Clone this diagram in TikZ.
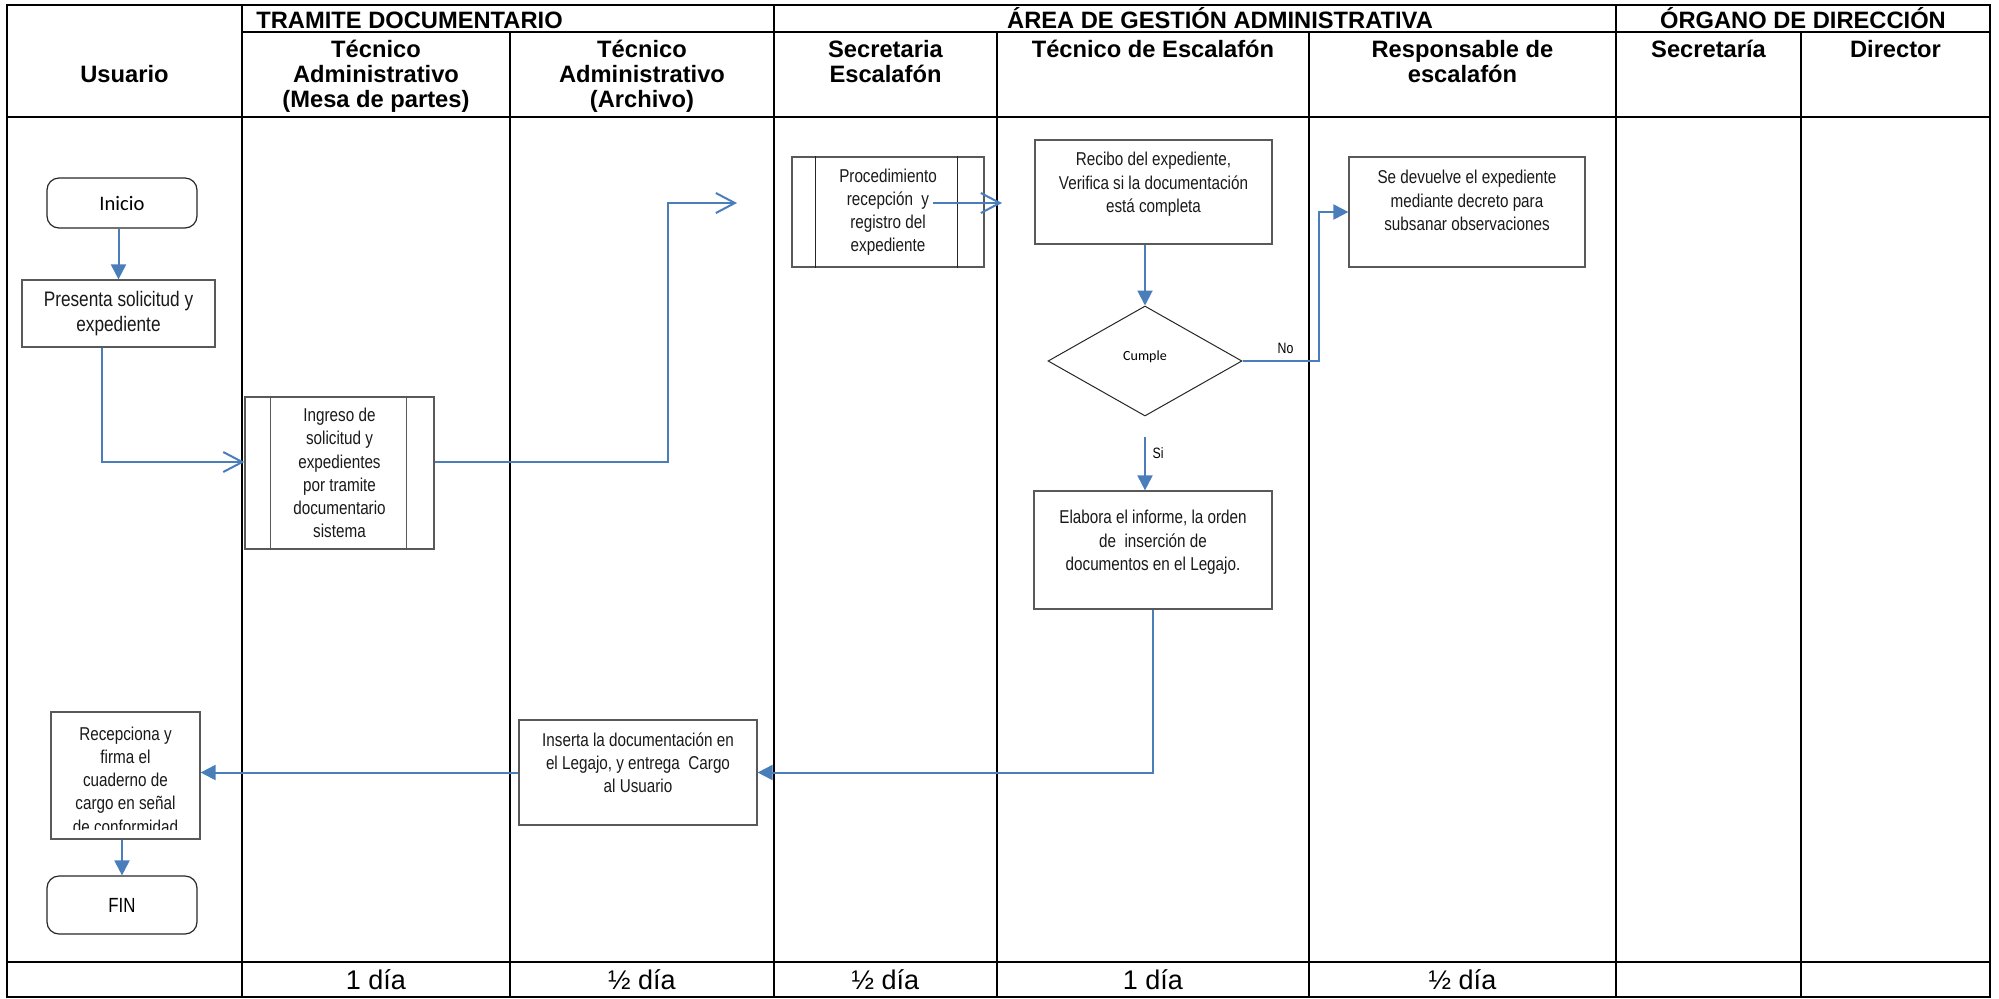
\documentclass[tikz,border=0pt]{standalone}
\usepackage{fontspec}
\setmainfont{Liberation Sans}
\newfontfamily\narrowfont{Liberation Sans}[FakeStretch=0.82]
\newfontfamily\calibfont{Carlito}
\usetikzlibrary{arrows.meta,shapes.geometric}
\definecolor{flowblue}{RGB}{74,126,187}
\definecolor{boxgray}{RGB}{89,89,89}

\begin{document}
\begin{tikzpicture}[x=0.5pt, y=-0.5pt,
        tableout/.style = {line width=1.35pt},
        tablein/.style = {line width=1pt},
        grp/.style = {font=\bfseries\fontsize{11.85}{12.5}\selectfont, anchor=base, inner sep=0pt},
        hdr/.style = {font=\bfseries\fontsize{11.85}{12.5}\selectfont, align=center, anchor=base, inner sep=0pt},
        foot/.style = {font=\fontsize{13.5}{15}\selectfont},
        proc/.style = {draw=boxgray, line width=0.6pt, align=center, inner sep=0pt,
                       font=\narrowfont\fontsize{9.3}{11.6}\selectfont, text=black!90},
        term/.style = {draw=black!85, line width=0.6pt, rounded corners=6pt, inner sep=0pt, minimum width=75pt},
        dec/.style = {diamond, draw=black!85, line width=0.5pt, inner sep=0pt, font=\calibfont\fontsize{7}{8}\selectfont},
        arr/.style = {draw=flowblue, line width=1pt, -{Triangle[width=7.5pt, length=7.5pt]}},
        arropen/.style = {draw=flowblue, line width=1pt, -{Straight Barb[width=10pt, length=9.5pt]}},
        lbl/.style = {font=\narrowfont\fontsize{7.5}{9}\selectfont},
    ]
    \useasboundingbox (0,0) rectangle (1999,998);

    % table
    \draw[tableout] (7,5) rectangle (1990,997);
    \draw[tablein] (242,32) -- (1990,32);
    \draw[tableout] (7,117) -- (1990,117);
    \draw[tableout] (7,962) -- (1990,962);
    \foreach \x in {242,774,1616} \draw[tablein] (\x,5) -- (\x,997);
    \foreach \x in {510,997,1309,1801} \draw[tablein] (\x,32) -- (\x,997);

    \node[grp, anchor=base west] (g1) at (256,28) {TRAMITE DOCUMENTARIO};
    \node[grp] (g2) at (1220,28) {ÁREA DE GESTIÓN ADMINISTRATIVA};
    \node[grp] (g3) at (1803,28) {ÓRGANO DE DIRECCIÓN};

    % base = last line
    \node[hdr] (h1) at (124.5,82) {Usuario};
    \node[hdr] (h2) at (376,107) {Técnico\\Administrativo\\(Mesa de partes)};
    \node[hdr] (h3) at (642,107) {Técnico\\Administrativo\\(Archivo)};
    \node[hdr] (h4) at (885.5,82) {Secretaria\\Escalafón};
    \node[hdr] (h5) at (1153,57) {Técnico de Escalafón};
    \node[hdr] (h6) at (1462.5,82) {Responsable de\\escalafón};
    \node[hdr] (h7) at (1708.5,57) {Secretaría};
    \node[hdr] (h8) at (1895.5,57) {Director};

    \node[foot] (d2) at (376,980) {1 día};
    \node[foot] (d3) at (642,980) {½ día};
    \node[foot] (d4) at (885.5,980) {½ día};
    \node[foot] (d5) at (1153,980) {1 día};
    \node[foot] (d6) at (1462.5,980) {½ día};

    % flow
    \node[term, minimum height=25pt, font=\calibfont\fontsize{10.3}{12}\selectfont] (ini) at (122,203) {Inicio};
    \node[proc, minimum width=96.5pt, minimum height=33.5pt, font=\narrowfont\fontsize{10.5}{12.5}\selectfont] (pres) at (118.5,313.5) {Presenta solicitud y\\expediente};
    \node[proc, minimum width=94.5pt, minimum height=76pt] (ing) at (339.5,473) {Ingreso de\\solicitud y\\expedientes\\por tramite\\documentario\\sistema};
    \draw[boxgray, line width=0.6pt] ([xshift=13pt]ing.north west) -- ([xshift=13pt]ing.south west)
        ([xshift=-14pt]ing.north east) -- ([xshift=-14pt]ing.south east);
    \node[proc, minimum width=96pt, minimum height=55pt] (sec) at (888,212) {Procedimiento\\recepción~ y\\registro del\\expediente};
    \draw[black!85, line width=0.6pt] ([xshift=12pt]sec.north west) -- ([xshift=12pt]sec.south west)
        ([xshift=-13.5pt]sec.north east) -- ([xshift=-13.5pt]sec.south east);
    \node[proc, minimum width=118.5pt, minimum height=52pt] (rec) at (1153.5,192) {Recibo del expediente,\\Verifica si la documentación\\está completa\\[-2pt]\mbox{}};
    \node[dec, minimum width=97pt, minimum height=55pt] (cum) at (1145,361) {\raisebox{5.5pt}{Cumple}};
    \node[proc, minimum width=118pt, minimum height=55pt] (resp) at (1467,212) {Se devuelve el expediente\\mediante decreto para\\subsanar observaciones\\[0pt]\mbox{}};
    \node[proc, minimum width=119pt, minimum height=59pt] (elab) at (1153,550) {Elabora el informe, la orden\\de~ inserción de\\documentos en el Legajo.\\[-2pt]\mbox{}};
    \node[proc, minimum width=119pt, minimum height=52.5pt] (ins) at (638,772.5) {Inserta la documentación en\\el Legajo, y entrega~ Cargo\\al Usuario\\[-2pt]\mbox{}};
    \node[proc, minimum width=74.5pt, minimum height=63.5pt] (recep) at (125.5,775.5) {};
    \begin{scope}
        \clip (51,712) rectangle (200,829);
        \node[proc, draw=none] (receptxt) at (125.5,780) {Recepciona y\\firma el\\cuaderno de\\cargo en señal\\de conformidad};
    \end{scope}
    \node[term, minimum height=29pt, font=\narrowfont\fontsize{10.25}{12}\selectfont] (fin) at (122,905) {FIN};

    \coordinate (c1) at (668,203);
    \coordinate (c2) at (737,203);
    \coordinate (c3) at (933,203);
    \coordinate (c4) at (1002,203);

    \draw[arr] (ini.south -| pres.north) -- (pres.north);
    \draw[arropen] ([xshift=-8.25pt]pres.south) |- ([yshift=5.5pt]ing.west);
    \draw[arropen] ([yshift=5.5pt]ing.east) -| (c1) -- (c2);
    \draw[arropen] (c3) -- (c4);
    \draw[arr] (rec.south -| cum.north) -- (cum.north);
    \draw[arr] ([yshift=-10pt]cum.south) -- (elab.north -| cum.south) node[lbl, right, pos=0.3] (si) {Si};
    \draw[arr] (cum.east) -| node[lbl, above, pos=0.28] (no) {No} ([xshift=-14.5pt]resp.west) -- (resp.west);
    \draw[arr] (elab.south) |- (ins.east);
    \draw[arr] (ins.west) -- (ins.west -| recep.east);
    \draw[arr] (fin.north |- recep.south) -- (fin.north);
\end{tikzpicture}
\end{document}
